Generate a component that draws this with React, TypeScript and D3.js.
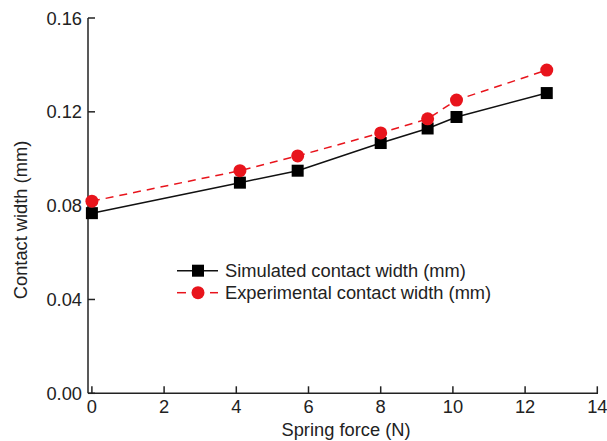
import React from "react";
import * as d3 from "d3";

const forces = [0, 4.1, 5.7, 8, 9.3, 10.1, 12.6];
const simulated = [0.0768, 0.0898, 0.0949, 0.1067, 0.1129, 0.1178, 0.128];
const experimental = [0.0819, 0.0949, 0.1012, 0.111, 0.117, 0.125, 0.1378];
const xTicks = [0, 2, 4, 6, 8, 10, 12, 14];
const yTicks = [0, 0.04, 0.08, 0.12, 0.16];
const seriesNames = ["Simulated contact width (mm)", "Experimental contact width (mm)"];

const W = 607;
const H = 441;
const axisLeft = 88;
const axisBottom = 393.3;
const font = "Liberation Sans, Arial, sans-serif";
const fs = 18.3;

export default function App() {
  const x = d3.scaleLinear().domain([0, 14]).range([91.9, 597.3]);
  const y = d3.scaleLinear().domain([0, 0.16]).range([axisBottom, 18]);
  const line = d3
    .line<number>()
    .x((_, i) => x(forces[i]))
    .y((d) => y(d));

  return (
    <svg
      width={W}
      height={H}
      style={{ position: "absolute", left: 0, top: 0, background: "#fff" }}
      fontFamily={font}
    >
      {/* axes */}
      <line x1={axisLeft} x2={axisLeft} y1={18} y2={axisBottom} stroke="#222" strokeWidth={1.5} />
      <line x1={axisLeft} x2={x(14) + 0.7} y1={axisBottom} y2={axisBottom} stroke="#222" strokeWidth={1.5} />
      {yTicks.map((t) => (
        <g key={"y" + t}>
          <line x1={axisLeft} x2={axisLeft + 7} y1={y(t)} y2={y(t)} stroke="#222" strokeWidth={1.5} />
          <text x={axisLeft - 6} y={y(t)} dy="0.36em" textAnchor="end" fontSize={fs} fill="#222">
            {t.toFixed(2)}
          </text>
        </g>
      ))}
      {xTicks.map((t) => (
        <g key={"x" + t}>
          <line x1={x(t)} x2={x(t)} y1={axisBottom} y2={axisBottom - 7} stroke="#222" strokeWidth={1.5} />
          <text x={x(t)} y={413} textAnchor="middle" fontSize={fs} fill="#222">
            {t}
          </text>
        </g>
      ))}
      <text x={346} y={436} textAnchor="middle" fontSize={fs} fill="#222">
        Spring force (N)
      </text>
      <text
        transform={`translate(27,220) rotate(-90)`}
        textAnchor="middle"
        fontSize={fs}
        fill="#222"
      >
        Contact width (mm)
      </text>

      {/* series */}
      <path d={line(simulated) || ""} fill="none" stroke="#111" strokeWidth={1.5} />
      <path d={line(experimental) || ""} fill="none" stroke="#e8141c" strokeWidth={1.5} strokeDasharray="8,6" />
      {simulated.map((v, i) => (
        <rect key={"s" + i} x={x(forces[i]) - 6} y={y(v) - 6} width={12} height={12} fill="#000" />
      ))}
      {experimental.map((v, i) => (
        <circle key={"e" + i} cx={x(forces[i])} cy={y(v)} r={6.5} fill="#e8141c" />
      ))}

      {/* legend */}
      <g>
        <line x1={177} x2={218} y1={270.7} y2={270.7} stroke="#111" strokeWidth={1.5} />
        <rect x={192} y={264.7} width={12} height={12} fill="#000" />
        <text x={225} y={270.7} dy="0.36em" fontSize={fs} fill="#222">
          {seriesNames[0]}
        </text>
        <line x1={177} x2={186} y1={292.7} y2={292.7} stroke="#e8141c" strokeWidth={1.5} />
        <line x1={210} x2={218} y1={292.7} y2={292.7} stroke="#e8141c" strokeWidth={1.5} />
        <circle cx={198} cy={292.7} r={6.5} fill="#e8141c" />
        <text x={225} y={292.7} dy="0.36em" fontSize={fs} fill="#222">
          {seriesNames[1]}
        </text>
      </g>
    </svg>
  );
}
